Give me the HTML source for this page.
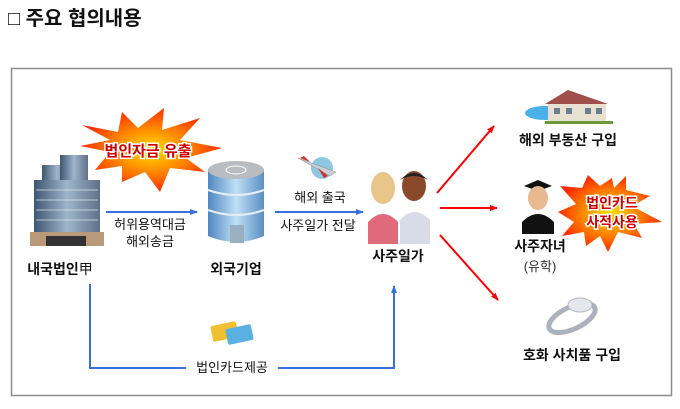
<!DOCTYPE html>
<html><head><meta charset="utf-8"><style>
body{margin:0;background:#fff;}
svg text{font-family:"Liberation Sans","Noto Sans CJK KR",sans-serif;}
</style></head><body>
<svg width="680" height="404" viewBox="0 0 680 404" xmlns="http://www.w3.org/2000/svg">
<defs>
<marker id="ab" markerWidth="8" markerHeight="8" refX="7" refY="4" orient="auto" markerUnits="userSpaceOnUse"><path d="M0,1 L8,4 L0,7 Z" fill="#3a6fe0"/></marker>
<marker id="ar" markerWidth="8" markerHeight="8" refX="7" refY="4" orient="auto" markerUnits="userSpaceOnUse"><path d="M0,1 L8,4 L0,7 Z" fill="#f00"/></marker>
<linearGradient id="bg1" x1="0" x2="1"><stop offset="0" stop-color="#3d5670"/><stop offset="0.5" stop-color="#9fb5cc"/><stop offset="1" stop-color="#5e7188"/></linearGradient>
<linearGradient id="bg2" x1="0" x2="1"><stop offset="0" stop-color="#4f86c0"/><stop offset="0.5" stop-color="#bfe0f5"/><stop offset="1" stop-color="#5a8fc4"/></linearGradient>
<radialGradient id="st"><stop offset="0" stop-color="#ffe000"/><stop offset="0.6" stop-color="#ff7a00"/><stop offset="1" stop-color="#ff2a00"/></radialGradient>
</defs>
<text x="8" y="25" font-size="20" font-weight="bold" fill="#111">□ 주요 협의내용</text>
<rect x="11.5" y="68.5" width="660" height="327" fill="#fff" stroke="#8c8c8c" stroke-width="1.5"/>

<!-- starburst 1 -->
<polygon fill="url(#st)" points="82,125 118,132 122,112 138,128 164,108 162,130 200,118 180,140 222,148 186,158 205,172 170,168 160,192 145,172 122,182 122,166 95,170 110,152 80,146 110,140" />
<text x="148" y="156" font-size="15" font-weight="bold" fill="#d00000" stroke="#fff" stroke-width="3" paint-order="stroke" text-anchor="middle">법인자금 유출</text>

<!-- building 1 -->
<rect x="42" y="165" width="30" height="70" fill="url(#bg1)"/>
<rect x="60" y="155" width="28" height="82" fill="url(#bg1)"/>
<rect x="34" y="180" width="66" height="55" fill="url(#bg1)"/>
<g stroke="#dfe8f2" stroke-width="1" opacity="0.7">
<line x1="36" y1="190" x2="98" y2="190"/><line x1="36" y1="200" x2="98" y2="200"/><line x1="36" y1="210" x2="98" y2="210"/><line x1="36" y1="220" x2="98" y2="220"/></g>
<rect x="30" y="232" width="74" height="14" fill="#b89a7a"/>
<rect x="46" y="236" width="40" height="10" fill="#333"/>
<text x="60" y="274" font-size="14" font-weight="bold" fill="#111" text-anchor="middle">내국법인<tspan font-weight="normal">甲</tspan></text>

<line x1="106" y1="212" x2="197" y2="212" stroke="#3a6fe0" stroke-width="2" marker-end="url(#ab)"/>
<text x="150" y="229" font-size="13" fill="#111" text-anchor="middle">허위용역대금</text>
<text x="150" y="246" font-size="13" fill="#111" text-anchor="middle">해외송금</text>

<!-- building 2 -->
<path d="M208,170 L208,236 Q236,248 264,236 L264,170 Z" fill="url(#bg2)"/>
<ellipse cx="236" cy="170" rx="28" ry="9" fill="#b9bcc0"/>
<ellipse cx="236" cy="170" rx="10" ry="4" fill="none" stroke="#fff"/>
<g fill="none" stroke="#e6eef5" stroke-width="2"><path d="M208,190 Q236,200 264,190"/><path d="M208,210 Q236,220 264,210"/></g>
<rect x="230" y="225" width="14" height="18" fill="#9ab0c0"/>
<text x="236" y="274" font-size="14" font-weight="bold" fill="#111" text-anchor="middle">외국기업</text>

<!-- plane -->
<circle cx="322" cy="168" r="11" fill="#8fc7e0"/>
<path d="M298,158 L336,172 L330,176 Z" fill="#c9ced4" stroke="#888" stroke-width="0.5"/>
<path d="M310,162 L304,156 L300,158 Z M318,168 L324,178 L328,176Z" fill="#c33"/>
<text x="320" y="202" font-size="13" fill="#111" text-anchor="middle">해외 출국</text>
<line x1="275" y1="212" x2="363" y2="212" stroke="#3a6fe0" stroke-width="2" marker-end="url(#ab)"/>
<text x="318" y="230" font-size="13" fill="#111" text-anchor="middle">사주일가 전달</text>

<!-- people -->
<ellipse cx="383" cy="188" rx="12" ry="16" fill="#e8c68a"/>
<path d="M368,244 L368,222 Q383,206 398,222 L398,244 Z" fill="#e06a7a"/>
<ellipse cx="414" cy="186" rx="12" ry="15" fill="#8a4a2a"/>
<path d="M400,180 Q414,166 428,180 Q414,172 400,180Z" fill="#222"/>
<path d="M400,244 L400,220 Q414,204 430,220 L430,244 Z" fill="#d8dbe8"/>
<text x="398" y="261" font-size="14" font-weight="bold" fill="#111" text-anchor="middle">사주일가</text>

<!-- red arrows -->
<line x1="437" y1="193" x2="494" y2="126" stroke="#f00" stroke-width="2" marker-end="url(#ar)"/>
<line x1="440" y1="208" x2="497" y2="208" stroke="#f00" stroke-width="2" marker-end="url(#ar)"/>
<line x1="440" y1="235" x2="498" y2="300" stroke="#f00" stroke-width="2" marker-end="url(#ar)"/>

<!-- house -->
<ellipse cx="545" cy="113" rx="20" ry="7" fill="#4ab0e8"/>
<rect x="548" y="103" width="58" height="20" fill="#e8e0d0"/>
<polygon points="545,104 568,90 608,104" fill="#a0504a"/>
<g fill="#6a8090"><rect x="554" y="108" width="6" height="6"/><rect x="566" y="108" width="6" height="6"/><rect x="585" y="108" width="6" height="6"/><rect x="596" y="108" width="6" height="6"/></g>
<rect x="545" y="121" width="68" height="3" fill="#6a9a3a"/>
<text x="568" y="145" font-size="14" font-weight="bold" fill="#111" text-anchor="middle">해외 부동산 구입</text>

<!-- graduate -->
<polygon points="524,186 538,180 552,186 538,191" fill="#111"/>
<ellipse cx="538" cy="198" rx="10" ry="12" fill="#e8b890"/>
<path d="M522,234 L522,222 Q538,206 554,222 L554,234 Z" fill="#111"/>
<text x="540" y="251" font-size="14" font-weight="bold" fill="#111" text-anchor="middle">사주자녀</text>
<text x="540" y="271" font-size="13" fill="#333" text-anchor="middle">(유학)</text>

<!-- starburst 2 -->
<polygon fill="url(#st)" points="560,186 582,188 588,175 600,186 612,178 614,188 626,176 626,190 650,196 632,206 662,222 634,224 642,238 618,232 608,252 600,236 586,246 584,232 562,236 574,222 558,212 576,204" />
<text x="612" y="208" font-size="14" font-weight="bold" fill="#d00000" stroke="#fff" stroke-width="3" paint-order="stroke" text-anchor="middle">법인카드</text>
<text x="612" y="227" font-size="14" font-weight="bold" fill="#d00000" stroke="#fff" stroke-width="3" paint-order="stroke" text-anchor="middle">사적사용</text>

<!-- ring -->
<ellipse cx="572" cy="318" rx="25" ry="11" fill="none" stroke="#aab2bc" stroke-width="5" transform="rotate(-25 572 318)"/>
<ellipse cx="580" cy="305" rx="12" ry="7" fill="#e4e8ee" stroke="#b0b8c0"/>
<text x="572" y="360" font-size="14" font-weight="bold" fill="#111" text-anchor="middle">호화 사치품 구입</text>

<!-- bottom path -->
<polyline points="90,284 90,368 394,368 394,286" fill="none" stroke="#3a6fe0" stroke-width="2" marker-end="url(#ab)"/>
<rect x="186" y="357" width="92" height="20" fill="#fff"/>
<text x="232" y="372" font-size="13" fill="#111" text-anchor="middle">법인카드제공</text>
<g transform="rotate(-12 232 333)">
<rect x="212" y="322" width="26" height="16" rx="2" fill="#f0c030"/>
<rect x="226" y="328" width="26" height="16" rx="2" fill="#5ab0e0"/>
</g>
</svg>
</body></html>
